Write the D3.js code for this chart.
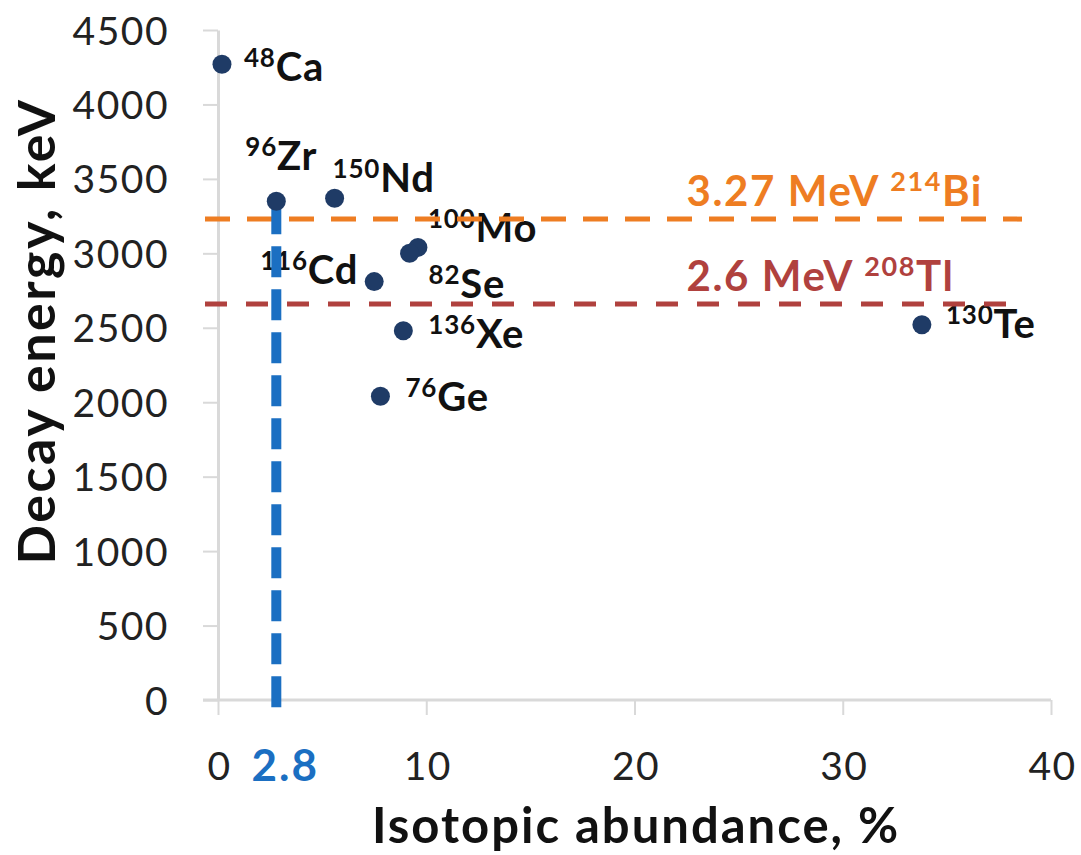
<!DOCTYPE html>
<html>
<head>
<meta charset="utf-8">
<script src="https://cdn.jsdelivr.net/npm/d3@7"></script>
<style>
  html, body { margin: 0; padding: 0; background: #fff; }
  svg { display: block; }
  text { font-family: Lato, "Open Sans", sans-serif; }
</style>
</head>
<body>
<svg id="chart" width="1081" height="855"></svg>
<script>
// ---- data ----
const isotopeMass   = ["48", "96", "150", "100", "82", "116", "136", "76", "130"];
const isotopeSymbol = ["Ca", "Zr", "Nd", "Mo", "Se", "Cd", "Xe", "Ge", "Te"];
const abundance     = [0.19, 2.8, 5.6, 9.6, 9.2, 7.5, 8.9, 7.8, 33.8];   // %
const decayEnergy   = [4270, 3350, 3370, 3040, 3000, 2810, 2480, 2040, 2520]; // keV
const xTicks = [0, 10, 20, 30, 40];
const yTicks = [0, 500, 1000, 1500, 2000, 2500, 3000, 3500, 4000, 4500];
const bgLines = [
  { energy: 3230, text: "3.27 MeV ", mass: "214", sym: "Bi" },
  { energy: 2660, text: "2.6 MeV ", mass: "208", sym: "Tl" }
];
const markerAbundance = 2.8;

// label placement (px offsets from the point: start of text, baseline)
const labelOffsets = [
  [22, 17, "start"], [-31, -31, "start"], [-2, -6, "start"], [10, -5, "start"],
  [19, 45, "start"], [-16, 2, "end"], [25, 17, "start"], [25, 15, "start"], [24, 13, "start"]
];

// ---- chart ----
const svg = d3.select("#chart");
const x = d3.scaleLinear().domain([0, 40]).range([218, 1051]);
const y = d3.scaleLinear().domain([0, 4500]).range([700, 30]);
const axisColor = "#d9d9d9";
const font = "Lato, 'Open Sans', sans-serif";

const gx = svg.append("g").attr("transform", `translate(0,${y(0)})`)
  .call(d3.axisBottom(x).tickValues(xTicks).tickSize(15).tickSizeOuter(0).tickFormat(d3.format("d")));
gx.select(".domain").attr("stroke", axisColor).attr("stroke-width", 3).attr("d", `M203,0H${x(40)}`);
gx.selectAll(".tick line").attr("stroke", axisColor).attr("stroke-width", 2);
gx.selectAll(".tick text").attr("y", 80).attr("dy", null).attr("dx", 1)
  .attr("font-size", 39).attr("letter-spacing", 1.5).attr("fill", "#222").attr("font-family", font);

const gy = svg.append("g").attr("transform", `translate(${x(0)},0)`)
  .call(d3.axisLeft(y).tickValues(yTicks).tickSize(15).tickSizeOuter(0).tickPadding(34).tickFormat(d3.format("d")));
gy.select(".domain").attr("stroke", axisColor).attr("stroke-width", 3);
gy.selectAll(".tick line").attr("stroke", axisColor).attr("stroke-width", 2);
gy.selectAll(".tick text").attr("font-size", 39).attr("letter-spacing", 1.5).attr("fill", "#222").attr("dy", "0.36em")
  .attr("font-family", font);

// axis titles
svg.append("text").attr("x", 636).attr("y", 843).attr("text-anchor", "middle")
  .attr("font-size", 49).attr("letter-spacing", 2).attr("font-weight", "bold").attr("fill", "#111")
  .text("Isotopic abundance, %");
svg.append("text").attr("transform", "translate(55,331) rotate(-90)").attr("text-anchor", "middle")
  .attr("font-size", 52).attr("letter-spacing", 2.5).attr("font-weight", "bold").attr("fill", "#111")
  .text("Decay energy, keV");

// point labels (drawn under the reference lines)
const pts = abundance.map((a, i) => ({ a, e: decayEnergy[i], m: isotopeMass[i], s: isotopeSymbol[i], o: labelOffsets[i] }));
const lbl = svg.append("g").selectAll("text").data(pts).join("text")
  .attr("x", d => x(d.a) + d.o[0]).attr("y", d => y(d.e) + d.o[1])
  .attr("text-anchor", d => d.o[2]).attr("font-weight", "bold").attr("fill", "#111")
  .attr("font-size", 40).attr("letter-spacing", 0.8);
lbl.append("tspan").attr("font-size", 26).attr("dy", -14).text(d => d.m);
lbl.append("tspan").attr("font-size", 40).attr("dy", 14).text(d => d.s);

// background lines
const bgColors = ["#ee7d22", "#b0413e"];
bgLines.forEach((b, i) => {
  svg.append("line").attr("x1", 205).attr("x2", 1022)
    .attr("y1", y(b.energy)).attr("y2", y(b.energy))
    .attr("stroke", bgColors[i]).attr("stroke-width", 5)
    .attr("stroke-dasharray", i === 0 ? "25,17" : "22,19");
  const t = svg.append("text").attr("x", x(22.5)).attr("y", y(b.energy) - 13)
    .attr("font-weight", "bold").attr("fill", bgColors[i]).attr("font-size", 42).attr("letter-spacing", 1.6);
  t.append("tspan").text(b.text);
  t.append("tspan").attr("font-size", 27).attr("dy", -15).text(b.mass);
  t.append("tspan").attr("font-size", 42).attr("dy", 15).text(b.sym);
});

// marker line at 2.8 %
const blue = "#1b6fc2";
const zrIdx = abundance.indexOf(markerAbundance);
svg.append("line").attr("x1", x(markerAbundance)).attr("x2", x(markerAbundance))
  .attr("y1", y(decayEnergy[zrIdx]) + 2).attr("y2", y(0) + 19)
  .attr("stroke", blue).attr("stroke-width", 10).attr("stroke-dasharray", "31,12");
svg.append("text").attr("x", x(markerAbundance) + 9).attr("y", 781).attr("text-anchor", "middle")
  .attr("font-size", 44).attr("letter-spacing", 2).attr("font-weight", "bold").attr("fill", blue).text("2.8");

// points
svg.append("g").selectAll("circle").data(pts).join("circle")
  .attr("cx", d => x(d.a)).attr("cy", d => y(d.e)).attr("r", 9.5).attr("fill", "#1f3b66");
</script>
</body>
</html>
